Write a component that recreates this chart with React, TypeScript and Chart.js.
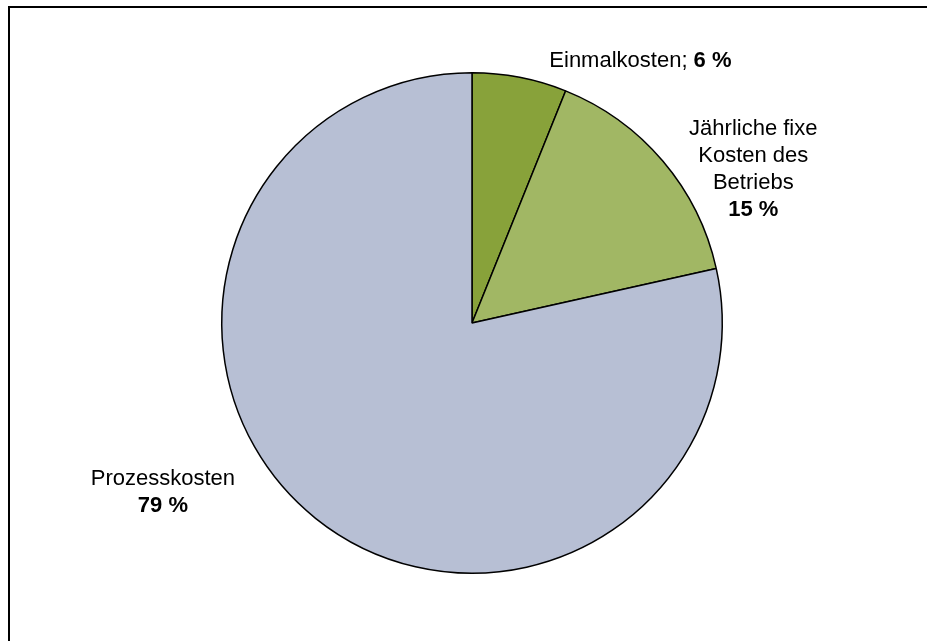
import React, { useEffect, useRef } from "react";
import { Chart, registerables } from "chart.js";

Chart.register(...registerables);

const categories = ["Einmalkosten", "Jährliche fixe Kosten des Betriebs", "Prozesskosten"];
const shares = [6.1, 15.4, 78.5];
const percentLabels = ["6 %", "15 %", "79 %"];
const sliceColors = ["#88A23A", "#A1B764", "#B7BFD4"];

type Seg = { text: string; bold?: boolean };
// label lines per slice
const labelLines: Seg[][][] = [
  [[{ text: "Einmalkosten; " }, { text: percentLabels[0], bold: true }]],
  [
    [{ text: "Jährliche fixe" }],
    [{ text: "Kosten des" }],
    [{ text: "Betriebs" }],
    [{ text: percentLabels[1], bold: true }],
  ],
  [[{ text: "Prozesskosten" }], [{ text: percentLabels[2], bold: true }]],
];
// anchor of first baseline, in units of the pie radius relative to its centre
const labelAnchors = [
  [0.673, -1.024],
  [1.124, -0.753],
  [-1.235, 0.649],
];
const LINE_H = 27;
const FONT_FAMILY = "'Liberation Sans', Arial, Helvetica, sans-serif";
const FONT_SIZE = 22;

const framePlugin = {
  id: "frame",
  beforeDraw(chart: any) {
    const { ctx, width, height } = chart;
    ctx.save();
    ctx.fillStyle = "#ffffff";
    ctx.fillRect(0, 0, width, height);
    ctx.strokeStyle = "#000000";
    ctx.lineWidth = 2;
    ctx.beginPath();
    ctx.moveTo(9, height);
    ctx.lineTo(9, 7);
    ctx.lineTo(width, 7);
    ctx.stroke();
    ctx.restore();
  },
};

const labelPlugin = {
  id: "sliceLabels",
  afterDraw(chart: any) {
    const meta = chart.getDatasetMeta(0);
    const { ctx } = chart;
    ctx.save();
    ctx.fillStyle = "#000000";
    ctx.textBaseline = "alphabetic";
    ctx.textAlign = "left";
    meta.data.forEach((arc: any, i: number) => {
      const { x, y, outerRadius } = arc.getProps(["x", "y", "outerRadius"], true);
      const ax = x + labelAnchors[i][0] * outerRadius;
      const ay = y + labelAnchors[i][1] * outerRadius;
      labelLines[i].forEach((line, li) => {
        let total = 0;
        const widths = line.map((s) => {
          ctx.font = `${s.bold ? "bold " : ""}${FONT_SIZE}px ${FONT_FAMILY}`;
          const w = ctx.measureText(s.text).width;
          total += w;
          return w;
        });
        let cx = ax - total / 2;
        line.forEach((s, si) => {
          ctx.font = `${s.bold ? "bold " : ""}${FONT_SIZE}px ${FONT_FAMILY}`;
          ctx.fillText(s.text, cx, ay + li * LINE_H);
          cx += widths[si];
        });
      });
    });
    ctx.restore();
  },
};

export default function App() {
  const ref = useRef<HTMLCanvasElement | null>(null);
  useEffect(() => {
    if (!ref.current) return;
    const chart = new Chart(ref.current, {
      type: "pie",
      data: {
        labels: categories,
        datasets: [
          {
            data: shares,
            backgroundColor: sliceColors,
            borderColor: "#000000",
            borderWidth: 1.5,
          },
        ],
      },
      options: {
        responsive: false,
        animation: false,
        layout: { padding: { left: 221, right: 204, top: 72, bottom: 67 } },
        plugins: {
          legend: { display: false },
          tooltip: { enabled: false },
        },
      },
      plugins: [framePlugin, labelPlugin],
    });
    return () => chart.destroy();
  }, []);
  return (
    <div style={{ position: "absolute", left: 0, top: 0, width: 927, height: 641, overflow: "hidden" }}>
      <canvas ref={ref} width={927} height={641} style={{ display: "block" }} />
    </div>
  );
}
